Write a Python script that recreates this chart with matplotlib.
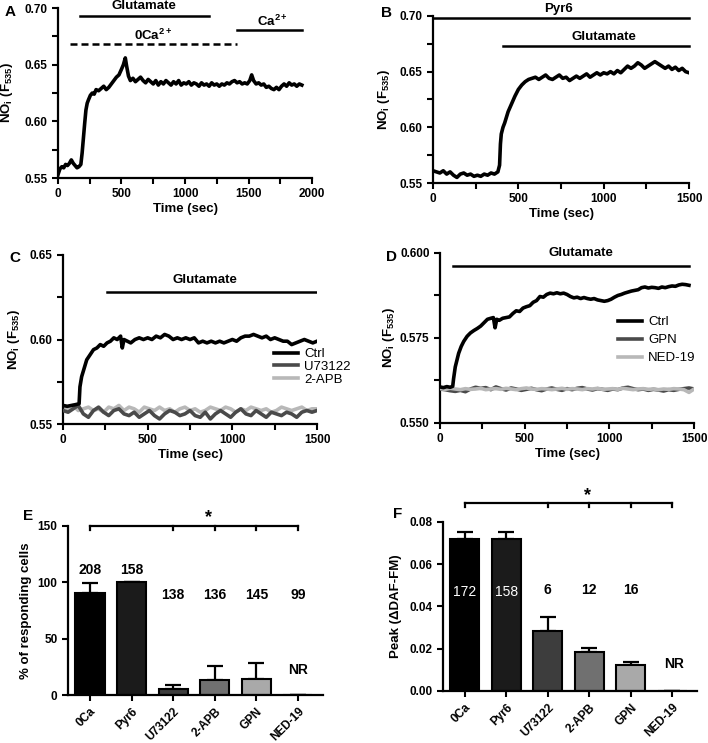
import matplotlib
matplotlib.use("Agg")
import matplotlib.pyplot as plt
from matplotlib.ticker import MultipleLocator, FormatStrFormatter

plt.rcParams["font.family"] = "Liberation Sans"
plt.rcParams["font.weight"] = "bold"
plt.rcParams["axes.labelweight"] = "bold"
plt.rcParams["mathtext.fontset"] = "custom"
plt.rcParams["mathtext.rm"] = "Liberation Sans:bold"
plt.rcParams["mathtext.it"] = "Liberation Sans:bold"
plt.rcParams["mathtext.bf"] = "Liberation Sans:bold"

# ---- data: panel A (0Ca, then Ca2+ re-added) ----
tA = [0, 15, 30, 45, 60, 75, 90, 105, 120, 135, 150, 165, 180, 190, 200, 210, 220, 230, 240, 255,
      270, 285, 300, 320, 340, 360, 380, 400, 420, 440, 460, 480, 500, 515, 530, 540, 555, 570, 590, 610,
      630, 650, 670, 690, 710, 730, 750, 770, 790, 810, 830, 850, 870, 890, 910, 930, 950, 970, 990, 1010,
      1030, 1050, 1070, 1090, 1110, 1130, 1150, 1170, 1190, 1210, 1230, 1250, 1270, 1290, 1310, 1330, 1350, 1370, 1390, 1410,
      1430, 1450, 1470, 1490, 1510, 1525, 1540, 1560, 1580, 1600, 1620, 1640, 1660, 1680, 1700, 1720, 1740, 1760, 1780, 1800,
      1820, 1840, 1860, 1880, 1900, 1920]
nA = [0.553, 0.558, 0.560, 0.559, 0.562, 0.561, 0.563, 0.566, 0.563, 0.561, 0.559, 0.560, 0.562, 0.572, 0.585, 0.598, 0.610, 0.616, 0.619, 0.623,
      0.625, 0.624, 0.628, 0.627, 0.629, 0.631, 0.628, 0.630, 0.633, 0.636, 0.639, 0.641, 0.646, 0.650, 0.656, 0.649, 0.640, 0.636, 0.638, 0.635,
      0.637, 0.639, 0.636, 0.634, 0.637, 0.635, 0.633, 0.636, 0.632, 0.635, 0.633, 0.636, 0.634, 0.632, 0.635, 0.633, 0.636, 0.632, 0.634, 0.633,
      0.635, 0.632, 0.634, 0.633, 0.631, 0.634, 0.632, 0.633, 0.631, 0.634, 0.632, 0.633, 0.631, 0.633, 0.632, 0.634, 0.633, 0.635, 0.636, 0.634,
      0.635, 0.633, 0.634, 0.633, 0.636, 0.641, 0.636, 0.633, 0.634, 0.632, 0.633, 0.630, 0.631, 0.629, 0.628, 0.630, 0.628, 0.631, 0.633, 0.631,
      0.634, 0.632, 0.633, 0.631, 0.633, 0.632]

# ---- panel B (Pyr6) ----
tB = [0, 20, 40, 60, 80, 100, 120, 140, 160, 180, 200, 220, 240, 260, 280, 300, 320, 340, 360, 380,
      390, 395, 400, 410, 420, 440, 460, 480, 500, 520, 540, 560, 580, 600, 620, 640, 660, 680, 700, 720,
      740, 760, 780, 800, 820, 840, 860, 880, 900, 920, 940, 960, 980, 1000, 1020, 1040, 1060, 1080, 1100, 1120,
      1140, 1160, 1180, 1200, 1220, 1240, 1260, 1280, 1300, 1320, 1340, 1360, 1380, 1400, 1420, 1440, 1460, 1480, 1500]
nB = [0.561, 0.560, 0.559, 0.561, 0.558, 0.560, 0.557, 0.555, 0.558, 0.559, 0.557, 0.558, 0.556, 0.557, 0.556, 0.558, 0.557, 0.559, 0.558, 0.560,
      0.566, 0.585, 0.594, 0.600, 0.604, 0.614, 0.621, 0.628, 0.634, 0.638, 0.641, 0.643, 0.644, 0.645, 0.643, 0.645, 0.647, 0.644, 0.643, 0.645,
      0.647, 0.644, 0.645, 0.642, 0.644, 0.646, 0.644, 0.646, 0.648, 0.645, 0.647, 0.649, 0.647, 0.649, 0.648, 0.650, 0.648, 0.651, 0.649, 0.652,
      0.655, 0.653, 0.655, 0.658, 0.656, 0.653, 0.655, 0.657, 0.659, 0.657, 0.655, 0.653, 0.655, 0.652, 0.654, 0.651, 0.653, 0.650, 0.649]

# ---- panel C (Ctrl, U73122, 2-APB) ----
tC_ctrl = [0, 25, 50, 75, 95, 100, 110, 125, 140, 160, 180, 200, 220, 240, 260, 280, 300, 320, 340, 350,
           360, 380, 400, 425, 450, 475, 500, 525, 550, 575, 600, 625, 650, 675, 700, 725, 750, 775, 800, 825,
           850, 875, 900, 925, 950, 975, 1000, 1025, 1050, 1075, 1100, 1125, 1150, 1175, 1200, 1225, 1250, 1275, 1300, 1325,
           1350, 1375, 1400, 1425, 1450, 1475, 1500]
nC_ctrl = [0.561, 0.5605, 0.561, 0.5615, 0.562, 0.572, 0.578, 0.583, 0.588, 0.591, 0.594, 0.595, 0.597, 0.596, 0.598, 0.599, 0.601, 0.600, 0.602, 0.595,
           0.600, 0.599, 0.598, 0.600, 0.601, 0.600, 0.601, 0.600, 0.602, 0.601, 0.603, 0.602, 0.600, 0.601, 0.600, 0.601, 0.600, 0.601, 0.598, 0.599,
           0.598, 0.599, 0.598, 0.599, 0.598, 0.599, 0.600, 0.599, 0.601, 0.602, 0.602, 0.603, 0.602, 0.601, 0.602, 0.600, 0.601, 0.600, 0.599, 0.599,
           0.597, 0.598, 0.599, 0.600, 0.599, 0.598, 0.599]
t_flat = [0, 30, 60, 90, 120, 150, 180, 210, 240, 270, 300, 330, 360, 390, 420, 450, 480, 510, 540, 570,
          600, 630, 660, 690, 720, 750, 780, 810, 840, 870, 900, 930, 960, 990, 1020, 1050, 1080, 1110, 1140, 1170,
          1200, 1230, 1260, 1290, 1320, 1350, 1380, 1410, 1440, 1470, 1500]
nC_u73 = [0.558, 0.557, 0.559, 0.561, 0.556, 0.554, 0.558, 0.560, 0.557, 0.555, 0.558, 0.559, 0.556, 0.555, 0.557, 0.554, 0.556, 0.558, 0.555, 0.553,
          0.556, 0.558, 0.557, 0.555, 0.556, 0.558, 0.555, 0.554, 0.557, 0.553, 0.556, 0.558, 0.556, 0.554, 0.557, 0.559, 0.556, 0.555, 0.558, 0.556,
          0.554, 0.557, 0.556, 0.555, 0.557, 0.556, 0.554, 0.557, 0.558, 0.557, 0.558]
nC_apb = [0.560, 0.559, 0.561, 0.558, 0.559, 0.560, 0.558, 0.559, 0.557, 0.560, 0.559, 0.561, 0.558, 0.560, 0.559, 0.557, 0.560, 0.559, 0.558, 0.560,
          0.558, 0.559, 0.557, 0.559, 0.560, 0.558, 0.559, 0.557, 0.558, 0.560, 0.559, 0.558, 0.560, 0.559, 0.557, 0.559, 0.558, 0.560, 0.559, 0.558,
          0.559, 0.557, 0.558, 0.560, 0.559, 0.558, 0.559, 0.560, 0.558, 0.559, 0.559]

# ---- panel D (Ctrl, GPN, NED-19) ----
tD_ctrl = [0, 20, 40, 60, 75, 80, 90, 100, 110, 125, 140, 160, 180, 200, 220, 240, 260, 280, 300, 315,
           325, 335, 350, 370, 390, 410, 430, 450, 470, 490, 510, 530, 550, 570, 590, 610, 630, 650, 670, 690,
           710, 730, 750, 770, 790, 810, 830, 850, 870, 890, 910, 930, 950, 970, 990, 1010, 1030, 1050, 1070, 1090,
           1110, 1130, 1150, 1170, 1190, 1210, 1230, 1250, 1270, 1290, 1310, 1330, 1350, 1370, 1390, 1410, 1430, 1450, 1470]
nD_ctrl = [0.5606, 0.5604, 0.5607, 0.5605, 0.5608, 0.5630, 0.5665, 0.5685, 0.5705, 0.5725, 0.5740, 0.5755, 0.5765, 0.5772, 0.5778, 0.5785, 0.5795, 0.5805, 0.5808, 0.5810,
           0.5780, 0.5805, 0.5802, 0.5808, 0.5810, 0.5812, 0.5822, 0.5830, 0.5828, 0.5838, 0.5842, 0.5845, 0.5855, 0.5860, 0.5872, 0.5870, 0.5878, 0.5882, 0.5880, 0.5883,
           0.5880, 0.5882, 0.5878, 0.5872, 0.5868, 0.5870, 0.5866, 0.5869, 0.5866, 0.5864, 0.5866, 0.5862, 0.5860, 0.5858, 0.5860, 0.5864, 0.5870, 0.5875, 0.5878, 0.5882,
           0.5885, 0.5888, 0.5890, 0.5892, 0.5898, 0.5900, 0.5897, 0.5899, 0.5898, 0.5896, 0.5900, 0.5898, 0.5901, 0.5903, 0.5902, 0.5906, 0.5908, 0.5907, 0.5905]
nD_gpn = [0.5600, 0.5598, 0.5595, 0.5593, 0.5596, 0.5592, 0.5600, 0.5605, 0.5602, 0.5604, 0.5598, 0.5606, 0.5601, 0.5597, 0.5603, 0.5600, 0.5596, 0.5599, 0.5602, 0.5598,
          0.5595, 0.5600, 0.5603, 0.5599, 0.5596, 0.5601, 0.5598, 0.5602, 0.5604, 0.5600, 0.5597, 0.5601, 0.5599, 0.5596, 0.5600, 0.5598, 0.5603, 0.5605, 0.5601, 0.5598,
          0.5600, 0.5596, 0.5599, 0.5597, 0.5594, 0.5598, 0.5596, 0.5599, 0.5601, 0.5603, 0.5600]
nD_ned = [0.5601, 0.5599, 0.5602, 0.5600, 0.5598, 0.5601, 0.5599, 0.5600, 0.5602, 0.5598, 0.5600, 0.5601, 0.5599, 0.5602, 0.5600, 0.5598, 0.5601, 0.5603, 0.5600, 0.5599,
          0.5601, 0.5600, 0.5598, 0.5600, 0.5602, 0.5599, 0.5601, 0.5600, 0.5598, 0.5601, 0.5600, 0.5602, 0.5599, 0.5600, 0.5601, 0.5599, 0.5602, 0.5600, 0.5598, 0.5600,
          0.5601, 0.5599, 0.5600, 0.5598, 0.5600, 0.5599, 0.5601, 0.5600, 0.5598, 0.5590, 0.5600]

# ---- panels E, F (bar summaries) ----
groups = ["0Ca", "Pyr6", "U73122", "2-APB", "GPN", "NED-19"]
bar_colors = ["#000000", "#1b1b1b", "#3d3d3d", "#707070", "#a9a9a9", "#ffffff"]
pct_resp = [90.6, 100, 5.6, 13.3, 14.2, 0]
pct_err = [9.2, 0, 3.6, 12.7, 13.8, 0]
n_cells_E = ["208", "158", "138", "136", "145", "99"]
peak = [0.0719, 0.0719, 0.0285, 0.0185, 0.0122, 0]
peak_err = [0.0033, 0.0033, 0.0064, 0.0019, 0.0014, 0]
n_cells_F = ["172", "158", "6", "12", "16", ""]

FS = 9.5
TFS = 8.5
ylab = r"NO$_{i}$ (F$_{535}$)"


def style(ax):
    for s in ["top", "right"]:
        ax.spines[s].set_visible(False)
    for s in ["left", "bottom"]:
        ax.spines[s].set_linewidth(1.6)
    ax.tick_params(which="both", direction="out", length=4, width=1.5, labelsize=TFS)


fig = plt.figure(figsize=(7.08, 7.43), dpi=100)

# A
ax = fig.add_axes([0.0819, 0.7604, 0.3588, 0.2288])
ax.plot(tA, nA, color="k", lw=2.6)
ax.set_xlim(0, 2000)
ax.set_ylim(0.55, 0.70)
ax.xaxis.set_major_locator(MultipleLocator(500))
ax.xaxis.set_minor_locator(MultipleLocator(250))
ax.yaxis.set_major_locator(MultipleLocator(0.05))
ax.yaxis.set_minor_locator(MultipleLocator(0.025))
ax.yaxis.set_major_formatter(FormatStrFormatter("%.2f"))
style(ax)
ax.set_xlabel("Time (sec)", fontsize=FS, labelpad=2)
ax.set_ylabel(ylab, fontsize=FS)
ax.yaxis.set_label_coords(-0.17, 0.5)
ax.plot([171, 1192], [0.693, 0.693], color="k", lw=1.8, clip_on=False)
ax.text(680, 0.7015, "Glutamate", ha="center", va="center", fontsize=FS)
ax.plot([92, 1413], [0.668, 0.668], color="k", lw=1.8, dashes=(2.8, 1.6))
ax.text(750, 0.676, r"0Ca$^{2+}$", ha="center", va="center", fontsize=FS)
ax.plot([1413, 1921], [0.6806, 0.6806], color="k", lw=1.8)
ax.text(1692, 0.6885, r"Ca$^{2+}$", ha="center", va="center", fontsize=FS)

# B
ax = fig.add_axes([0.6116, 0.7537, 0.3616, 0.2248])
ax.plot(tB, nB, color="k", lw=2.6)
ax.set_xlim(0, 1500)
ax.set_ylim(0.55, 0.70)
ax.xaxis.set_major_locator(MultipleLocator(500))
ax.xaxis.set_minor_locator(MultipleLocator(250))
ax.yaxis.set_major_locator(MultipleLocator(0.05))
ax.yaxis.set_minor_locator(MultipleLocator(0.025))
ax.yaxis.set_major_formatter(FormatStrFormatter("%.2f"))
style(ax)
ax.set_xlabel("Time (sec)", fontsize=FS, labelpad=2)
ax.set_ylabel(ylab, fontsize=FS)
ax.yaxis.set_label_coords(-0.16, 0.5)
ax.plot([0, 1500], [0.698, 0.698], color="k", lw=1.8, clip_on=False)
ax.text(737, 0.706, "Pyr6", ha="center", va="center", fontsize=FS)
ax.plot([411, 1500], [0.6733, 0.6733], color="k", lw=1.8, clip_on=False)
ax.text(1001, 0.6814, "Glutamate", ha="center", va="center", fontsize=FS)

# C
ax = fig.add_axes([0.089, 0.4293, 0.3588, 0.2275])
ax.plot(t_flat, nC_apb, color="#b8b8b8", lw=2.6, label="2-APB", zorder=2)
ax.plot(t_flat, nC_u73, color="#4a4a4a", lw=2.6, label="U73122", zorder=3)
ax.plot(tC_ctrl, nC_ctrl, color="k", lw=2.6, label="Ctrl", zorder=4)
ax.set_xlim(0, 1500)
ax.set_ylim(0.55, 0.65)
ax.xaxis.set_major_locator(MultipleLocator(500))
ax.xaxis.set_minor_locator(MultipleLocator(250))
ax.yaxis.set_major_locator(MultipleLocator(0.05))
ax.yaxis.set_minor_locator(MultipleLocator(0.025))
ax.yaxis.set_major_formatter(FormatStrFormatter("%.2f"))
style(ax)
ax.set_xlabel("Time (sec)", fontsize=FS, labelpad=2)
ax.set_ylabel(ylab, fontsize=FS)
ax.yaxis.set_label_coords(-0.16, 0.5)
ax.plot([260, 1496], [0.628, 0.628], color="k", lw=1.8)
ax.text(839, 0.6352, "Glutamate", ha="center", va="center", fontsize=FS)
h, l = ax.get_legend_handles_labels()
ax.legend(h[::-1], l[::-1], loc="upper left", bbox_to_anchor=(0.83, 0.45), frameon=False,
          prop={"size": FS, "weight": "normal"}, labelspacing=0.05, handlelength=1.8,
          handletextpad=0.5, borderaxespad=0, borderpad=0)

# D
ax = fig.add_axes([0.6215, 0.4307, 0.3588, 0.2288])
ax.plot(t_flat, nD_gpn, color="#4a4a4a", lw=2.6, label="GPN", zorder=2)
ax.plot(t_flat, nD_ned, color="#b8b8b8", lw=2.6, label="NED-19", zorder=3)
ax.plot(tD_ctrl, nD_ctrl, color="k", lw=2.6, label="Ctrl", zorder=4)
ax.set_xlim(0, 1500)
ax.set_ylim(0.55, 0.60)
ax.xaxis.set_major_locator(MultipleLocator(500))
ax.xaxis.set_minor_locator(MultipleLocator(250))
ax.yaxis.set_major_locator(MultipleLocator(0.025))
ax.yaxis.set_minor_locator(MultipleLocator(0.0125))
ax.yaxis.set_major_formatter(FormatStrFormatter("%.3f"))
style(ax)
ax.set_xlabel("Time (sec)", fontsize=FS, labelpad=2)
ax.set_ylabel(ylab, fontsize=FS)
ax.yaxis.set_label_coords(-0.17, 0.5)
ax.plot([79, 1470], [0.5962, 0.5962], color="k", lw=1.8)
ax.text(831, 0.5999, "Glutamate", ha="center", va="center", fontsize=FS)
h, l = ax.get_legend_handles_labels()
ax.legend([h[2], h[0], h[1]], [l[2], l[0], l[1]], loc="upper left", bbox_to_anchor=(0.70, 0.63),
          frameon=False, prop={"size": FS, "weight": "normal"}, labelspacing=0.45, handlelength=1.8,
          handletextpad=0.5, borderaxespad=0, borderpad=0)

# E
ax = fig.add_axes([0.096, 0.0646, 0.360, 0.2275])
xs = list(range(len(groups)))
ax.bar(xs, pct_resp, width=0.7, color=bar_colors, edgecolor="k", linewidth=1.5, zorder=2)
ax.errorbar(xs, pct_resp, yerr=[[0] * len(xs), pct_err], fmt="none", ecolor="k", elinewidth=1.6,
            capsize=6, capthick=1.6, zorder=1)
ax.set_xlim(-0.53, 5.6)
ax.set_ylim(0, 150)
ax.yaxis.set_major_locator(MultipleLocator(50))
ax.set_xticks(xs)
ax.set_xticklabels(groups, rotation=45, ha="right", rotation_mode="anchor")
style(ax)
ax.set_ylabel("% of responding cells", fontsize=FS)
ax.yaxis.set_label_coords(-0.14, 0.5)
for i, s in enumerate(n_cells_E):
    ax.text(xs[i], 111 if i < 2 else 88.6, s, ha="center", va="center", fontsize=FS + 0.5)
ax.text(5, 22, "NR", ha="center", va="center", fontsize=FS + 0.5)
ax.plot([0, 5], [150, 150], color="k", lw=1.6, clip_on=False)
for i in [0, 2, 3, 4, 5]:
    ax.plot([i, i], [150, 146.5], color="k", lw=1.6, clip_on=False)
ax.text(2.85, 157, "*", ha="center", va="center", fontsize=13)

# F
ax = fig.add_axes([0.6257, 0.07, 0.3588, 0.2275])
ax.bar(xs, peak, width=0.7, color=bar_colors, edgecolor="k", linewidth=1.5, zorder=2)
ax.errorbar(xs, peak, yerr=[[0] * len(xs), peak_err], fmt="none", ecolor="k", elinewidth=1.6,
            capsize=6, capthick=1.6, zorder=1)
ax.set_xlim(-0.53, 5.6)
ax.set_ylim(0, 0.08)
ax.yaxis.set_major_locator(MultipleLocator(0.02))
ax.yaxis.set_major_formatter(FormatStrFormatter("%.2f"))
ax.set_xticks(xs)
ax.set_xticklabels(groups, rotation=45, ha="right", rotation_mode="anchor")
style(ax)
ax.set_ylabel("Peak (ΔDAF-FM)", fontsize=FS)
ax.yaxis.set_label_coords(-0.16, 0.5)
for i, s in enumerate(n_cells_F):
    if i < 2:
        ax.text(xs[i], 0.047, s, ha="center", va="center", fontsize=FS + 0.5, color="white",
                fontweight="normal", zorder=5)
    else:
        ax.text(xs[i], 0.048, s, ha="center", va="center", fontsize=FS + 0.5)
ax.text(5.05, 0.0127, "NR", ha="center", va="center", fontsize=FS + 0.5)
ax.plot([0, 5], [0.089, 0.089], color="k", lw=1.6, clip_on=False)
for i in [0, 2, 3, 4, 5]:
    ax.plot([i, i], [0.089, 0.0872], color="k", lw=1.6, clip_on=False)
ax.text(2.95, 0.0925, "*", ha="center", va="center", fontsize=13)

# panel letters
for lab, px, py in [("A", 10, 12), ("B", 387, 13), ("C", 15, 258), ("D", 391, 257), ("E", 28, 516), ("F", 398, 514)]:
    fig.text(px / 708, 1 - py / 743, lab, ha="center", va="center", fontsize=11, fontweight="bold")

fig.savefig("out.png", dpi=100)
